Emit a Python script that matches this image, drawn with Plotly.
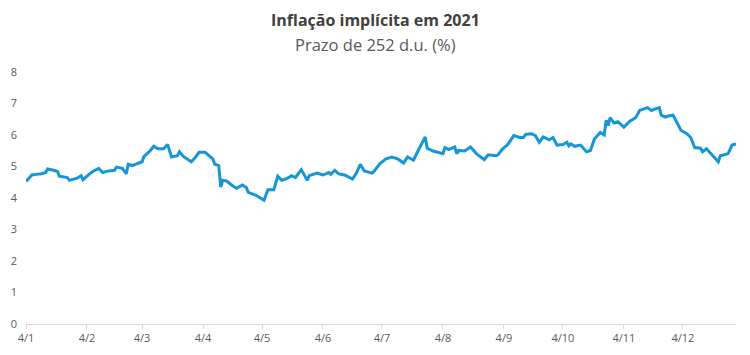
import plotly.graph_objects as go

dates = [
    "2021-01-04", "2021-01-07", "2021-01-09", "2021-01-12", "2021-01-14", "2021-01-15",
    "2021-01-18", "2021-01-20", "2021-01-21", "2021-01-23", "2021-01-25", "2021-01-26",
    "2021-01-28", "2021-01-30", "2021-02-01", "2021-02-02", "2021-02-05", "2021-02-07",
    "2021-02-10", "2021-02-12", "2021-02-15", "2021-02-18", "2021-02-19", "2021-02-22",
    "2021-02-24", "2021-02-25", "2021-02-27", "2021-03-02", "2021-03-04", "2021-03-05",
    "2021-03-08", "2021-03-10", "2021-03-12", "2021-03-15", "2021-03-17", "2021-03-19",
    "2021-03-22", "2021-03-23", "2021-03-25", "2021-03-29", "2021-03-31", "2021-04-02",
    "2021-04-05", "2021-04-09", "2021-04-10", "2021-04-12", "2021-04-13", "2021-04-14",
    "2021-04-16", "2021-04-19", "2021-04-21", "2021-04-24", "2021-04-26", "2021-04-27",
    "2021-04-30", "2021-05-01", "2021-05-03", "2021-05-05", "2021-05-07", "2021-05-10",
    "2021-05-12", "2021-05-14", "2021-05-17", "2021-05-19", "2021-05-21", "2021-05-24",
    "2021-05-27", "2021-05-28", "2021-06-01", "2021-06-04", "2021-06-07", "2021-06-08",
    "2021-06-10", "2021-06-12", "2021-06-15", "2021-06-17", "2021-06-19", "2021-06-21",
    "2021-06-23", "2021-06-25", "2021-06-29", "2021-06-30", "2021-07-02", "2021-07-03",
    "2021-07-06", "2021-07-09", "2021-07-12", "2021-07-15", "2021-07-17", "2021-07-20",
    "2021-07-23", "2021-07-26", "2021-07-27", "2021-07-30", "2021-08-04", "2021-08-05",
    "2021-08-07", "2021-08-10", "2021-08-11", "2021-08-12", "2021-08-15", "2021-08-18",
    "2021-08-21", "2021-08-23", "2021-08-25", "2021-08-27", "2021-08-31", "2021-09-01",
    "2021-09-03", "2021-09-06", "2021-09-09", "2021-09-12", "2021-09-14", "2021-09-15",
    "2021-09-18", "2021-09-20", "2021-09-22", "2021-09-24", "2021-09-27", "2021-09-29",
    "2021-10-01", "2021-10-04", "2021-10-06", "2021-10-07", "2021-10-08", "2021-10-10",
    "2021-10-13", "2021-10-16", "2021-10-18", "2021-10-20", "2021-10-23", "2021-10-25",
    "2021-10-26", "2021-10-27", "2021-10-28", "2021-10-30", "2021-11-01", "2021-11-04",
    "2021-11-07", "2021-11-10", "2021-11-12", "2021-11-16", "2021-11-18", "2021-11-20",
    "2021-11-22", "2021-11-23", "2021-11-25", "2021-11-27", "2021-11-29", "2021-12-03",
    "2021-12-06", "2021-12-08", "2021-12-10", "2021-12-13", "2021-12-14", "2021-12-16",
    "2021-12-19", "2021-12-22", "2021-12-23", "2021-12-27", "2021-12-29", "2021-12-31",
]

inflacao = [
    4.52, 4.73, 4.75, 4.77, 4.81, 4.92,
    4.88, 4.84, 4.69, 4.67, 4.65, 4.56,
    4.60, 4.63, 4.71, 4.58, 4.75, 4.84,
    4.94, 4.81, 4.86, 4.88, 4.98, 4.94,
    4.77, 5.07, 5.03, 5.11, 5.15, 5.32,
    5.49, 5.64, 5.56, 5.56, 5.70, 5.30,
    5.34, 5.47, 5.32, 5.15, 5.28, 5.45,
    5.45, 5.24, 5.07, 5.03, 4.35, 4.56,
    4.54, 4.39, 4.31, 4.41, 4.33, 4.18,
    4.12, 4.08, 4.01, 3.93, 4.26, 4.26,
    4.69, 4.56, 4.63, 4.71, 4.65, 4.90,
    4.56, 4.71, 4.79, 4.73, 4.81, 4.75,
    4.88, 4.77, 4.73, 4.67, 4.60, 4.79,
    5.07, 4.86, 4.79, 4.85, 5.02, 5.09,
    5.24, 5.30, 5.24, 5.11, 5.30, 5.20,
    5.58, 5.94, 5.58, 5.49, 5.41, 5.60,
    5.54, 5.62, 5.41, 5.51, 5.49, 5.62,
    5.41, 5.32, 5.22, 5.37, 5.34, 5.37,
    5.54, 5.70, 5.98, 5.92, 5.92, 6.02,
    6.04, 5.98, 5.77, 5.94, 5.85, 5.92,
    5.68, 5.70, 5.77, 5.66, 5.72, 5.64,
    5.68, 5.47, 5.51, 5.87, 6.08, 6.00,
    6.47, 6.30, 6.55, 6.38, 6.42, 6.25,
    6.44, 6.55, 6.78, 6.87, 6.78, 6.83,
    6.87, 6.63, 6.57, 6.61, 6.63, 6.15,
    6.04, 5.92, 5.60, 5.58, 5.47, 5.56,
    5.37, 5.15, 5.34, 5.41, 5.68, 5.72,
]

tick_dates = [
    "2021-01-04", "2021-02-04", "2021-03-04", "2021-04-04", "2021-05-04", "2021-06-04",
    "2021-07-04", "2021-08-04", "2021-09-04", "2021-10-04", "2021-11-04", "2021-12-04",
]
tick_labels = ["4/1", "4/2", "4/3", "4/4", "4/5", "4/6", "4/7", "4/8", "4/9", "4/10", "4/11", "4/12"]
y_ticks = [0, 1, 2, 3, 4, 5, 6, 7, 8]

title = "Inflação implícita em 2021"
subtitle = "Prazo de 252 d.u. (%)"

FONT = "Open Sans"
# the page body has an 8px default margin, so the figure starts at (8, 8)
OFF = 8
ML, MR, MT, MB = 26 - OFF, 14, 72 - OFF, 31
W, H = 750 - OFF, 355 - OFF

fig = go.Figure()
fig.add_trace(go.Scatter(
    x=dates, y=inflacao, mode="lines",
    line=dict(color="#1496d7", width=3),
    hoverinfo="x+y",
))

plot_h = H - MT - MB
plot_w = W - ML - MR
cx = (375 - OFF - ML) / plot_w

fig.update_layout(
    width=W, height=H,
    margin=dict(l=ML, r=MR, t=MT, b=MB, autoexpand=False),
    paper_bgcolor="white", plot_bgcolor="white",
    showlegend=False,
    font=dict(family=FONT, color="#595959", size=11),
    xaxis=dict(
        type="date",
        range=["2021-01-04", "2021-12-31"],
        tickvals=tick_dates, ticktext=tick_labels,
        showgrid=False, zeroline=False, automargin=False,
        showline=True, linecolor="#d9d9d9", linewidth=1,
        ticks="outside", ticklen=4, tickcolor="#d9d9d9",
        tickfont=dict(size=11, color="#595959", family=FONT),
    ),
    yaxis=dict(
        range=[0, 8],
        tickvals=y_ticks, automargin=False,
        showgrid=False, zeroline=False, showline=False,
        ticks="", ticklabelstandoff=8,
        tickfont=dict(size=11, color="#595959", family=FONT),
    ),
    annotations=[
        dict(text="<b>" + title + "</b>", x=cx, xref="paper", xanchor="center",
             y=1 + (MT - (20 - OFF)) / plot_h, yref="paper", yanchor="middle", showarrow=False,
             font=dict(size=16, color="#404040", family=FONT)),
        dict(text=subtitle, x=cx, xref="paper", xanchor="center",
             y=1 + (MT - (45 - OFF)) / plot_h, yref="paper", yanchor="middle", showarrow=False,
             font=dict(size=16.5, color="#595959", family=FONT)),
    ],
)

fig.write_html("out.html")
